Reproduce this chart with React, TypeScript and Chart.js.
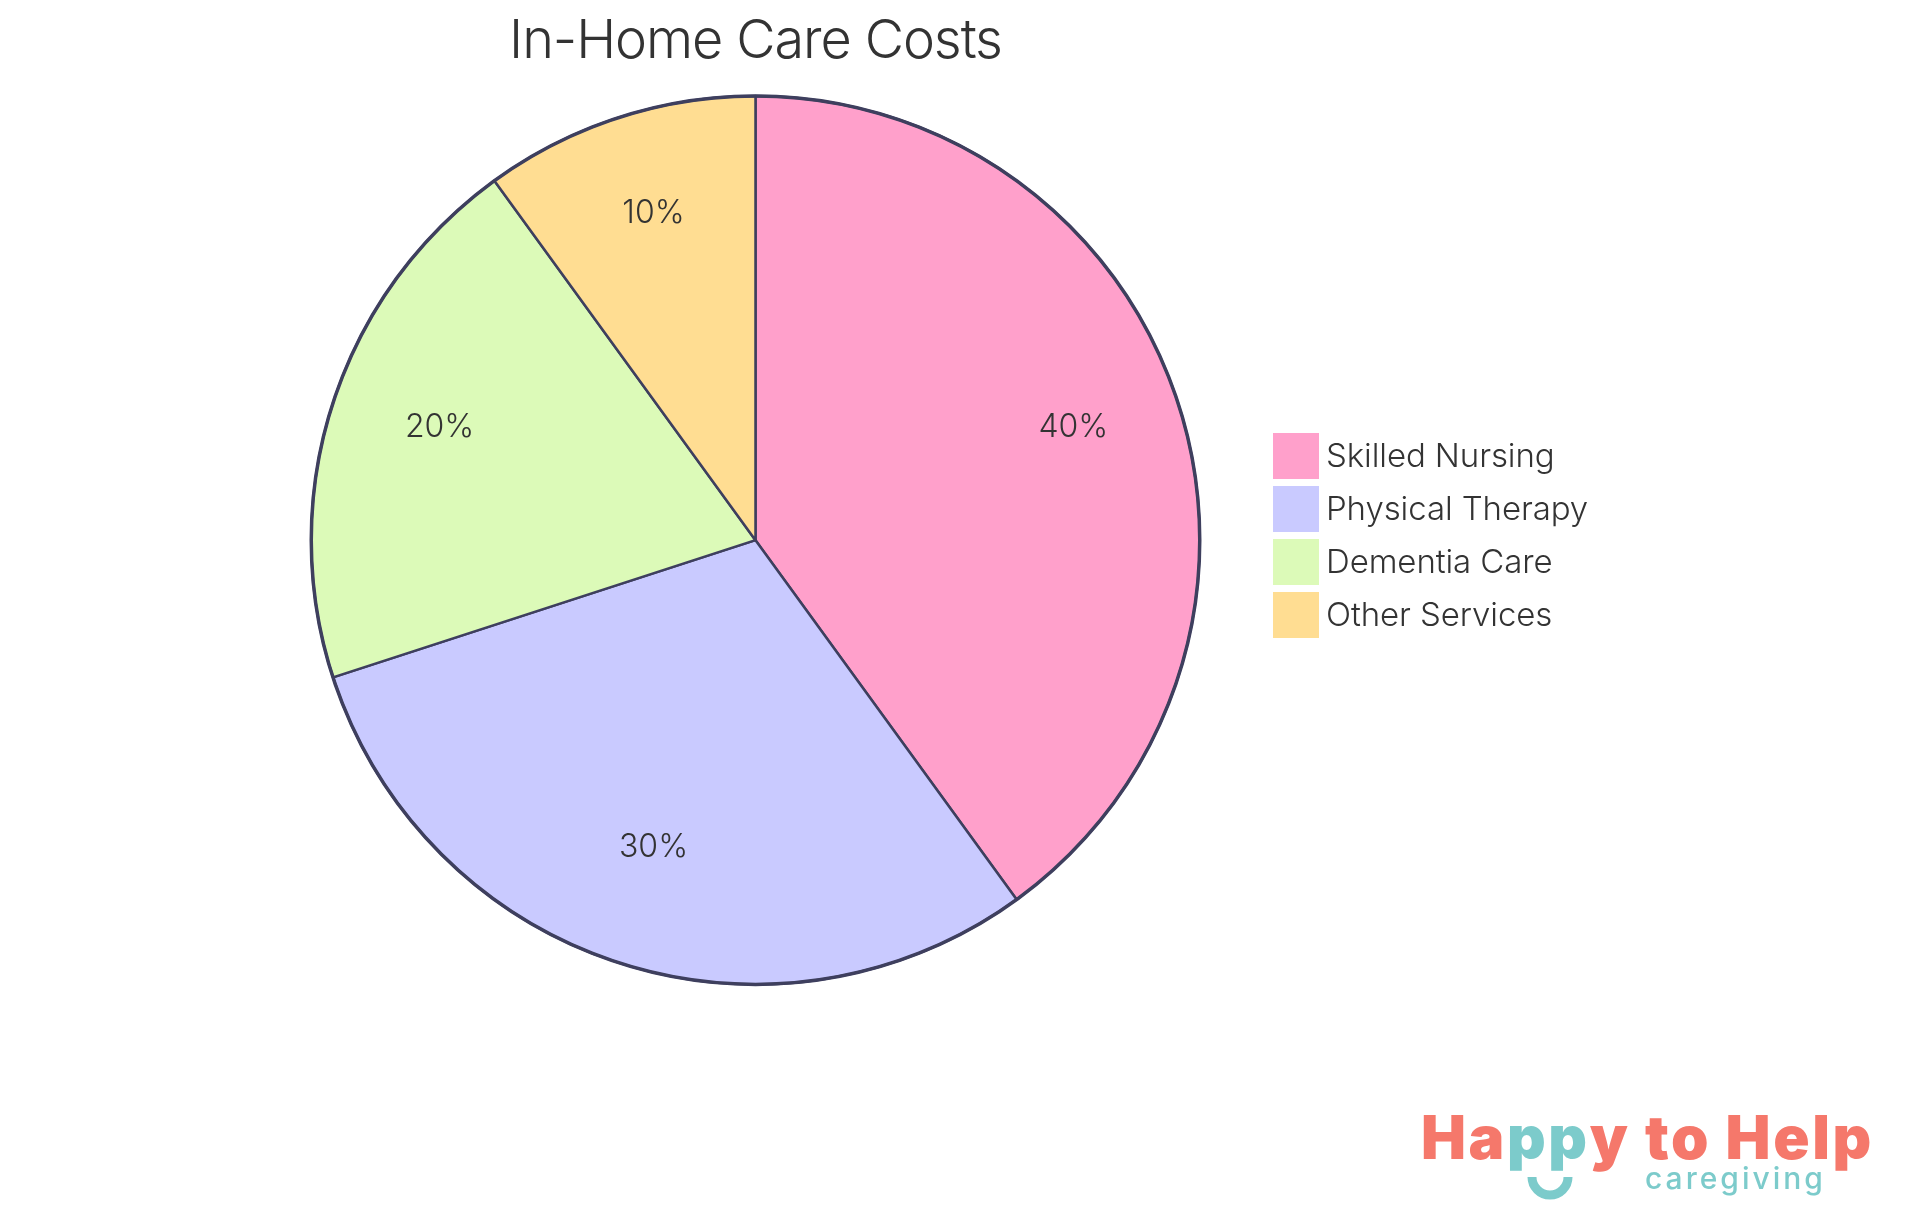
import { useEffect, useRef } from "react";
import { Chart, registerables } from "chart.js";

Chart.register(...registerables);

const categories = ["Skilled Nursing", "Physical Therapy", "Dementia Care", "Other Services"];
const shares = [40, 30, 20, 10];
const sliceColors = ["#FFA0CB", "#C9CAFF", "#DCFAB8", "#FFDD92"];

const logoWords = [
  { text: "Ha", color: "#F5786B" },
  { text: "pp", color: "#7CCBCB" },
  { text: "y to Help", color: "#F5786B" },
];

const INK = "#333333";
const OUTLINE = "#3E3F5E";

// pie outline, slice percentages, legend and the logo, all painted on top of the arcs
const overlayPlugin = {
  id: "overlay",
  beforeDraw(chart: Chart) {
    // the title box has no letter spacing option of its own
    (chart.ctx as any).letterSpacing = "-1.1px";
  },
  beforeDatasetsDraw(chart: Chart) {
    (chart.ctx as any).letterSpacing = "0px";
  },
  afterDatasetsDraw(chart: Chart) {
    const { ctx } = chart;
    const arcs = chart.getDatasetMeta(0).data as any[];

    ctx.save();

    const { x, y, outerRadius } = arcs[0].getProps(["x", "y", "outerRadius"], true);
    ctx.beginPath();
    ctx.arc(x, y, outerRadius, 0, Math.PI * 2);
    ctx.lineWidth = 3.5;
    ctx.strokeStyle = OUTLINE;
    ctx.stroke();

    ctx.fillStyle = INK;
    ctx.font = "350 32px Inter";
    ctx.textAlign = "center";
    ctx.textBaseline = "middle";
    arcs.forEach((arc, i) => {
      const { startAngle, endAngle } = arc.getProps(["startAngle", "endAngle"], true);
      const mid = (startAngle + endAngle) / 2;
      const r = outerRadius * 0.75;
      ctx.fillText(`${shares[i]}%`, x + Math.cos(mid) * r + 1, y + Math.sin(mid) * r - 10);
    });

    ctx.textAlign = "left";
    ctx.font = "350 33px Inter";
    (ctx as any).letterSpacing = "-0.1px";
    categories.forEach((label, i) => {
      const top = 433 + i * 53;
      ctx.fillStyle = sliceColors[i];
      ctx.fillRect(1273, top, 46, 46);
      ctx.fillStyle = INK;
      ctx.fillText(label, 1326, top + 24);
    });

    ctx.textBaseline = "alphabetic";
    ctx.font = "900 60px Inter";
    (ctx as any).letterSpacing = "2.6px";
    let cursor = 1421;
    logoWords.forEach((word) => {
      ctx.fillStyle = word.color;
      ctx.fillText(word.text, cursor, 1159);
      cursor += ctx.measureText(word.text).width;
    });

    ctx.fillStyle = "#7CCBCB";
    ctx.font = "500 30px Inter";
    (ctx as any).letterSpacing = "3px";
    ctx.fillText("caregiving", 1645, 1189);
    (ctx as any).letterSpacing = "0px";

    ctx.beginPath();
    ctx.arc(1550, 1177, 18, 0, Math.PI);
    ctx.lineWidth = 9;
    ctx.strokeStyle = "#7CCBCB";
    ctx.stroke();

    ctx.restore();
  },
};

const App = () => {
  const chartRef = useRef<HTMLCanvasElement | null>(null);

  useEffect(() => {
    if (!chartRef.current) return;

    const chartInstance = new Chart(chartRef.current, {
      type: "pie",
      data: {
        labels: categories,
        datasets: [
          {
            data: shares,
            backgroundColor: sliceColors,
            borderColor: OUTLINE,
            borderWidth: 2.5,
          },
        ],
      },
      options: {
        responsive: false,
        animation: false,
        devicePixelRatio: 1,
        layout: { padding: { top: 0, bottom: 229, left: 310, right: 719 } },
        plugins: {
          legend: { display: false },
          tooltip: { enabled: false },
          title: {
            display: true,
            text: "In-Home Care Costs",
            fullSize: false,
            color: INK,
            font: { family: "Inter", size: 54, weight: "300", lineHeight: 1.2 },
            padding: { top: 9.5, bottom: 20 },
          },
        },
      },
      plugins: [overlayPlugin],
    });

    return () => {
      chartInstance.destroy();
    };
  }, []);

  return (
    <div style={{ position: "absolute", left: 0, top: 0, width: 1920, height: 1215, background: "#fff" }}>
      <canvas ref={chartRef} width={1920} height={1215} />
    </div>
  );
};

export default App;
